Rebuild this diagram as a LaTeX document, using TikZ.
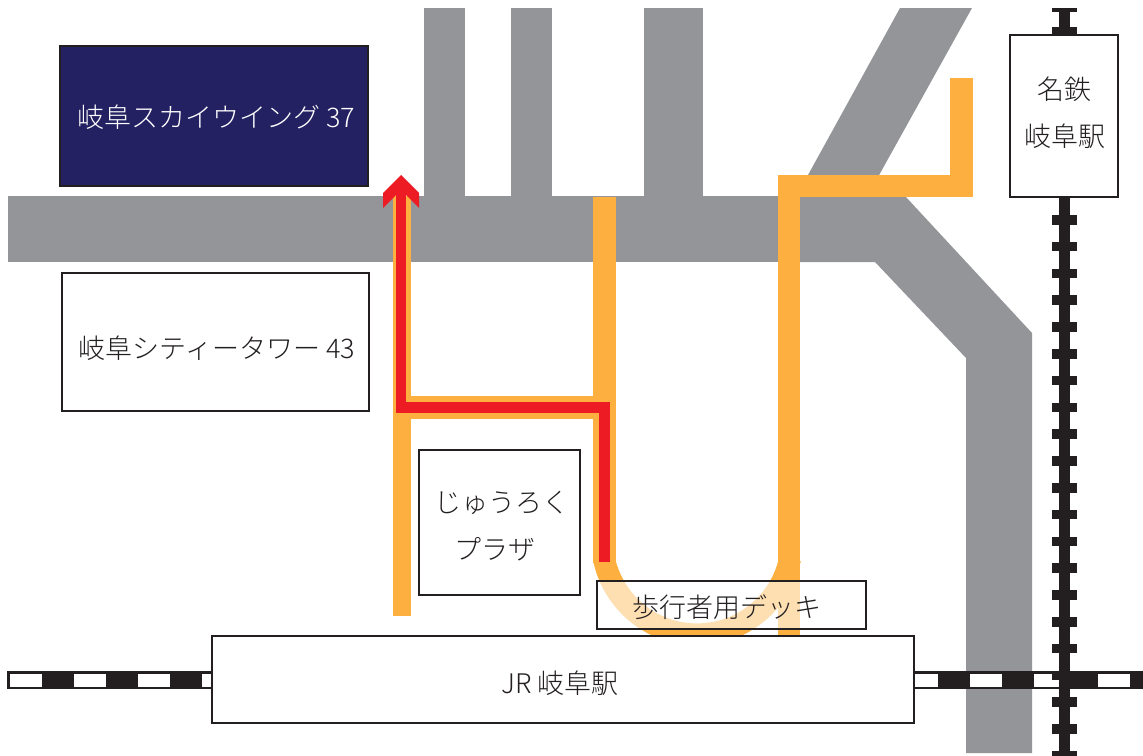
\documentclass[tikz,border=0pt]{standalone}
\usepackage{fontspec}
\setmainfont{Noto Sans CJK JP}[UprightFont=* Light]
\definecolor{road}{HTML}{939598}
\definecolor{walk}{HTML}{FDB03F}
\definecolor{route}{HTML}{ED1C24}
\definecolor{ink}{HTML}{231F20}
\definecolor{navy}{HTML}{232162}
\tikzset{
  roadfill/.style={fill=road,draw=none},
  walkfill/.style={fill=walk,draw=none},
  routefill/.style={fill=route,draw=none},
  inkfill/.style={fill=ink,draw=none},
  placebox/.style={draw=ink,line width=1.7pt,fill=white,inner sep=0pt},
  darkbox/.style={placebox,fill=navy},
  paledeck/.style={draw=ink,line width=1.7pt,fill=white,fill opacity=.6,draw opacity=1,inner sep=0pt},
  placetext/.style={inner sep=0pt,align=center,text=ink,font=\fontsize{27}{47}\selectfont},
}
\begin{document}
\begin{tikzpicture}[x=1pt,y=-1pt]
\useasboundingbox[fill=white] (0,0) rectangle (1143,755);
% roads
\fill[roadfill] (8,196) rectangle (905,262);
\fill[roadfill] (424,8) rectangle (465,197);
\fill[roadfill] (511,8) rectangle (552,197);
\fill[roadfill] (644,8) rectangle (703,197);
\fill[roadfill] (900,8) -- (972,8) -- (878,177) -- (905,197) -- (790,197) -- (808,175) -- cycle;
\fill[roadfill] (905,196) -- (1032,333) -- (1032,753) -- (966,753) -- (966,358) -- (875,262) -- (800,262) -- (800,196) -- cycle;
% horizontal railway
\fill[inkfill] (7,671) rectangle (1143,689);
\foreach \x in {10,74,138,202,906,970,1034,1098}
  \fill[white] (\x,674) rectangle (\x+32,687);
% vertical railway
\fill[inkfill] (1059,8) rectangle (1070,755);
\fill[inkfill] (1052,8) rectangle (1077,12);
\foreach \k in {0,...,27}
  \fill[inkfill] (1052,{27.4+26.8*\k}) rectangle (1077,{27.4+26.8*\k+9.5});
% walkways
\fill[walkfill] (393,196) rectangle (411,616);
\fill[walkfill] (393,396) rectangle (616,419);
\fill[walkfill] (593,197) rectangle (616,563);
\fill[walkfill] (778,175) rectangle (800,640);
\fill[walkfill] (778,175) rectangle (973,197);
\fill[walkfill] (950,78) rectangle (973,197);
\begin{scope}
  \clip (585,561) rectangle (810,640);
  \draw[walk,line width=22pt] (697,539.4) circle[radius=95pt];
\end{scope}
% route
\fill[routefill] (396,190) rectangle (406,413);
\fill[routefill] (396,402) rectangle (610,413);
\fill[routefill] (599,402) rectangle (610,562);
\fill[routefill] (401,175) -- (419,193) -- (419,208) -- (401,190) -- (383,208) -- (383,193) -- cycle;
% boxes
\node[darkbox,minimum width=308pt,minimum height=140pt] (sky) at (214,116) {};
\node[placebox,minimum width=307pt,minimum height=138pt] (city) at (215.5,342) {};
\node[placebox,minimum width=161pt,minimum height=145pt] (plaza) at (499.5,522.5) {};
\node[placebox,minimum width=108pt,minimum height=162pt] (meitetsu) at (1064,116) {};
\node[placebox,minimum width=702pt,minimum height=87pt] (jr) at (563,679.5) {};
\node[paledeck,minimum width=269pt,minimum height=48pt] (deck) at (731.5,605) {};
% labels
\node[placetext,text=white] (skytext) at (216.5,117.5) {岐阜スカイウイング 37};
\node[placetext] (citytext) at (217,348) {岐阜シティータワー 43};
\node[placetext] (plazatext) at (501.5,526) {じゅうろく\\\hspace*{-13pt}プラザ};
\node[placetext] (meitetsutext) at (1064.5,113) {名鉄\\岐阜駅};
\node[placetext] (jrtext) at (560,683) {JR 岐阜駅};
\node[placetext] (decktext) at (726.5,607) {歩行者用デッキ};
\end{tikzpicture}
\end{document}
